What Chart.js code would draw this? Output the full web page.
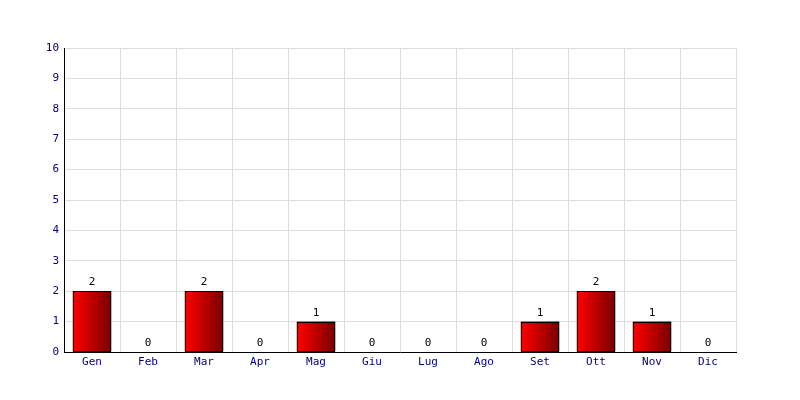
<!DOCTYPE html>
<html>
<head>
<meta charset="utf-8">
<script src="https://cdn.jsdelivr.net/npm/chart.js@4"></script>
<style>
  html, body { margin: 0; padding: 0; background: #fff; }
  #wrap { width: 800px; height: 400px; }
</style>
</head>
<body>
<div id="wrap"><canvas id="myChart" width="800" height="400"></canvas></div>
<script>
const mesi = ["Gen", "Feb", "Mar", "Apr", "Mag", "Giu", "Lug", "Ago", "Set", "Ott", "Nov", "Dic"];
const valori = [2, 0, 2, 0, 1, 0, 0, 0, 1, 2, 1, 0];

const FONT = "'DejaVu Sans Mono', monospace";

// gradiente orizzontale per ogni barra
function barGradient(ctx) {
    const chart = ctx.chart;
    if (!chart.chartArea) return "#cc0000";
    const xs = chart.scales.x;
    const cx = xs.getPixelForValue(ctx.dataIndex);
    const half = 19;
    const g = chart.ctx.createLinearGradient(cx - half, 0, cx + half, 0);
    g.addColorStop(0, "#ff0000");
    g.addColorStop(1, "#760000");
    return g;
}

// bordo nero netto + etichette sopra le barre
const valueLabels = {
    id: "valueLabels",
    afterDatasetsDraw(chart) {
        const c = chart.ctx;
        const meta = chart.getDatasetMeta(0);
        c.save();
        c.strokeStyle = "#000";
        c.lineWidth = 1;
        meta.data.forEach((bar, i) => {
            if (valori[i] <= 0) return;
            const l = Math.round(bar.x - bar.width / 2) + 0.5;
            const r = Math.round(bar.x + bar.width / 2) - 0.5;
            const t = Math.round(bar.y) + 0.5;
            const b = Math.round(bar.base) - 0.5;
            c.strokeRect(l, t, r - l, b - t);
        });
        c.font = "11px " + FONT;
        c.fillStyle = "#000";
        c.textAlign = "center";
        c.textBaseline = "alphabetic";
        meta.data.forEach((bar, i) => {
            c.fillText(String(valori[i]), bar.x, bar.y - 6);
        });
        c.restore();
    }
};

new Chart(document.getElementById("myChart"), {
    type: "bar",
    data: {
        labels: mesi,
        datasets: [{
            data: valori,
            backgroundColor: barGradient,
            borderWidth: 0,
            categoryPercentage: 1,
            barPercentage: 0.69
        }]
    },
    options: {
        responsive: false,
        animation: false,
        layout: { padding: { top: 48, right: 64, left: 0, bottom: 0 } },
        plugins: {
            legend: { display: false },
            tooltip: { enabled: false }
        },
        scales: {
            x: {
                afterFit(scale) { scale.height = 48; },
                grid: { color: "#dddddd", offset: true, drawTicks: false },
                border: { color: "#000", width: 1 },
                ticks: { color: "#000080", font: { family: FONT, size: 11 }, padding: 4 }
            },
            y: {
                min: 0,
                max: 10,
                afterFit(scale) { scale.width = 64; },
                grid: { color: "#dddddd", drawTicks: false },
                border: { color: "#000", width: 1 },
                ticks: { stepSize: 1, color: "#000080", font: { family: FONT, size: 11 }, padding: 5 }
            }
        }
    },
    plugins: [valueLabels]
});
</script>
</body>
</html>
